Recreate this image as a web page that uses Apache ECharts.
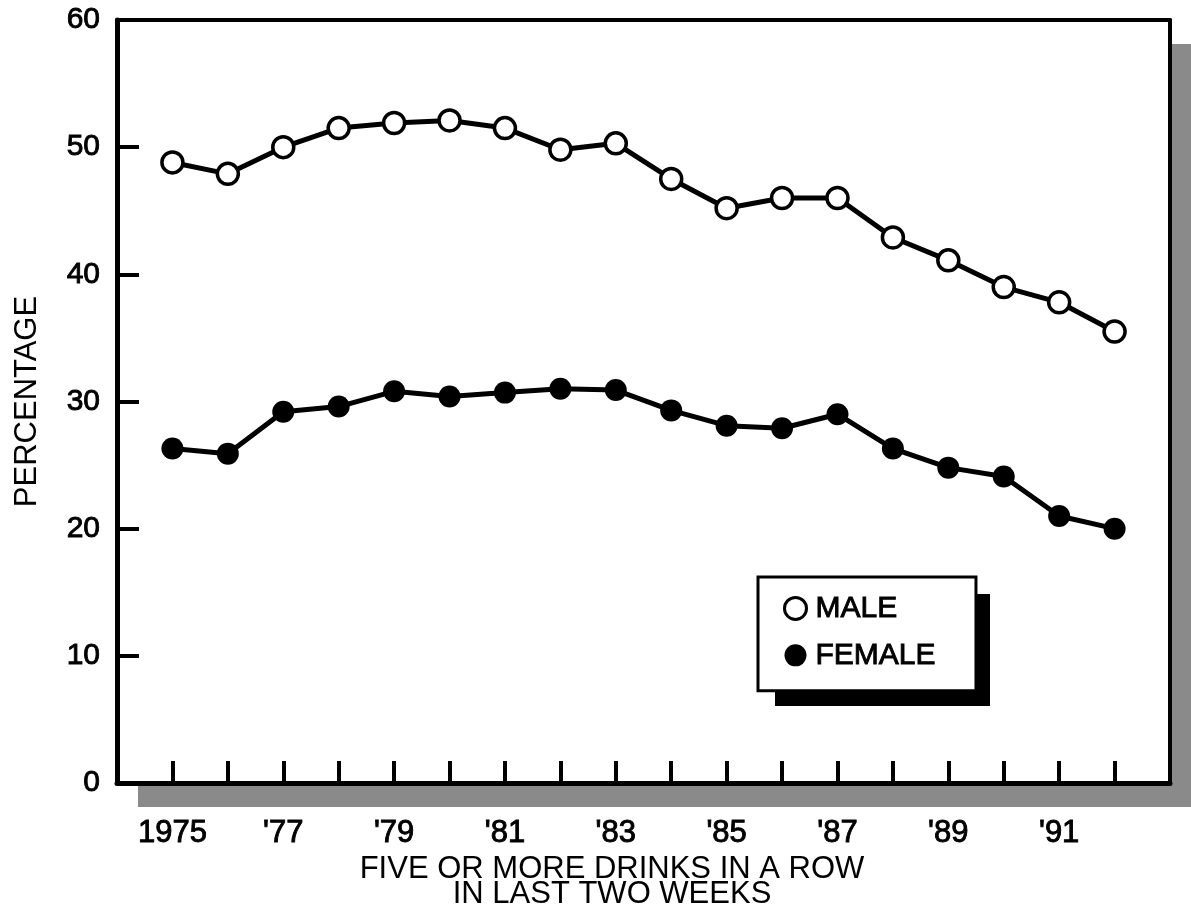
<!DOCTYPE html>
<html>
<head>
<meta charset="utf-8">
<title>Five or more drinks in a row</title>
<script src="https://cdn.jsdelivr.net/npm/echarts@6/dist/echarts.min.js"></script>
<style>
  html, body { margin: 0; padding: 0; background: #fff; }
  #chart { width: 1191px; height: 917px; }
</style>
</head>
<body>
<div id="chart"></div>
<script>
  // data
  const years = [1975, 1976, 1977, 1978, 1979, 1980, 1981, 1982, 1983, 1984, 1985, 1986, 1987, 1988, 1989, 1990, 1991, 1992]
  const male = [48.8, 47.9, 50.0, 51.5, 51.9, 52.1, 51.5, 49.8, 50.3, 47.5, 45.2, 46.0, 46.0, 42.9, 41.1, 39.0, 37.8, 35.5]
  const female = [26.3, 25.9, 29.2, 29.6, 30.8, 30.4, 30.7, 31.0, 30.9, 29.3, 28.1, 27.9, 29.0, 26.3, 24.8, 24.1, 21.0, 20.0]
  const labelYears = [1975, 1977, 1979, 1981, 1983, 1985, 1987, 1989, 1991]
  const labelTexts = ['1975', "'77", "'79", "'81", "'83", "'85", "'87", "'89", "'91"]
  const yTicks = [0, 10, 20, 30, 40, 50, 60]

  const font = '"Liberation Sans", Arial, Helvetica, sans-serif'
  const pair = (vals) => years.map((y, i) => [y, vals[i]])
  // a little ink spread on the printed labels
  const heavy = { textBorderColor: '#000', textBorderWidth: 0.9 }

  // plain frame line for the top and right sides of the box
  const frame = (pos) => ({
    position: pos,
    type: 'value',
    axisLine: { show: true, onZero: false, lineStyle: { color: '#000', width: 4 } },
    axisTick: { show: false },
    axisLabel: { show: false },
    splitLine: { show: false }
  })

  const myChart = echarts.init(document.getElementById('chart'))
  myChart.setOption({
    backgroundColor: '#fff',
    animation: false,
    textStyle: { fontFamily: font, color: '#000' },
    grid: {
      left: 117, top: 20, right: 21, bottom: 134,
      outerBoundsMode: 'none',
      containLabel: false,
      show: true,
      backgroundColor: '#fff',
      borderWidth: 0,
      shadowColor: '#8a8a8a',
      shadowBlur: 0,
      shadowOffsetX: 21,
      shadowOffsetY: 24
    },
    legend: {
      orient: 'vertical',
      left: 758,
      top: 577,
      padding: [16, 40, 20, 25],
      itemGap: 16,
      itemWidth: 22,
      itemHeight: 22,
      backgroundColor: '#fff',
      borderColor: '#000',
      borderWidth: 3,
      z: 6,
      textStyle: Object.assign({ fontSize: 30, fontFamily: font, color: '#000', padding: [0, 0, 0, 4] }, heavy),
      data: [
        { name: 'MALE', icon: 'circle', itemStyle: { color: '#fff', borderColor: '#000', borderWidth: 3 } },
        { name: 'FEMALE', icon: 'circle', itemStyle: { color: '#000', borderColor: '#000', borderWidth: 0 } }
      ]
    },
    xAxis: [{
      type: 'value',
      min: 1974,
      max: 1993,
      interval: 1,
      splitLine: { show: false },
      axisLine: { lineStyle: { color: '#000', width: 5 } },
      axisTick: { inside: true, length: 22, lineStyle: { color: '#000', width: 4 } },
      axisLabel: Object.assign({
        fontSize: 31,
        color: '#000',
        margin: 35,
        fontFamily: font,
        formatter: (v) => {
          const i = labelYears.indexOf(v)
          return i >= 0 ? labelTexts[i] : ''
        }
      }, heavy)
    }, Object.assign(frame('top'), { min: 1974, max: 1993 })],
    yAxis: [{
      type: 'value',
      min: yTicks[0],
      max: yTicks[yTicks.length - 1],
      interval: 10,
      splitLine: { show: false },
      axisLine: { lineStyle: { color: '#000', width: 5 } },
      axisTick: { inside: true, length: 22, lineStyle: { color: '#000', width: 4 } },
      axisLabel: Object.assign({ fontSize: 30, color: '#000', margin: 17, fontFamily: font }, heavy),
      name: 'PERCENTAGE',
      nameLocation: 'middle',
      nameRotate: 90,
      nameGap: 74,
      nameTextStyle: { fontSize: 31, color: '#000', fontFamily: font }
    }, Object.assign(frame('right'), { min: 0, max: 60 })],
    graphic: [{
      // solid drop shadow behind the legend box
      type: 'rect',
      z: 5,
      shape: { x: 775, y: 594, width: 215, height: 112 },
      style: { fill: '#000' }
    }, {
      type: 'text',
      x: 612,
      y: 857,
      style: {
        text: 'FIVE OR MORE DRINKS IN A ROW\nIN LAST TWO WEEKS',
        align: 'center',
        font: '31px ' + font,
        lineHeight: 25,
        fill: '#000'
      }
    }],
    series: [
      {
        name: 'FEMALE',
        type: 'line',
        data: pair(female),
        symbol: 'circle',
        symbolSize: 22,
        lineStyle: { color: '#000', width: 5 },
        itemStyle: { color: '#000', borderColor: '#000', borderWidth: 0 },
        z: 3
      },
      {
        name: 'MALE',
        type: 'line',
        data: pair(male),
        symbol: 'circle',
        symbolSize: 21,
        lineStyle: { color: '#000', width: 5 },
        itemStyle: { color: '#fff', borderColor: '#000', borderWidth: 3.5 },
        z: 4
      }
    ]
  })
</script>
</body>
</html>
